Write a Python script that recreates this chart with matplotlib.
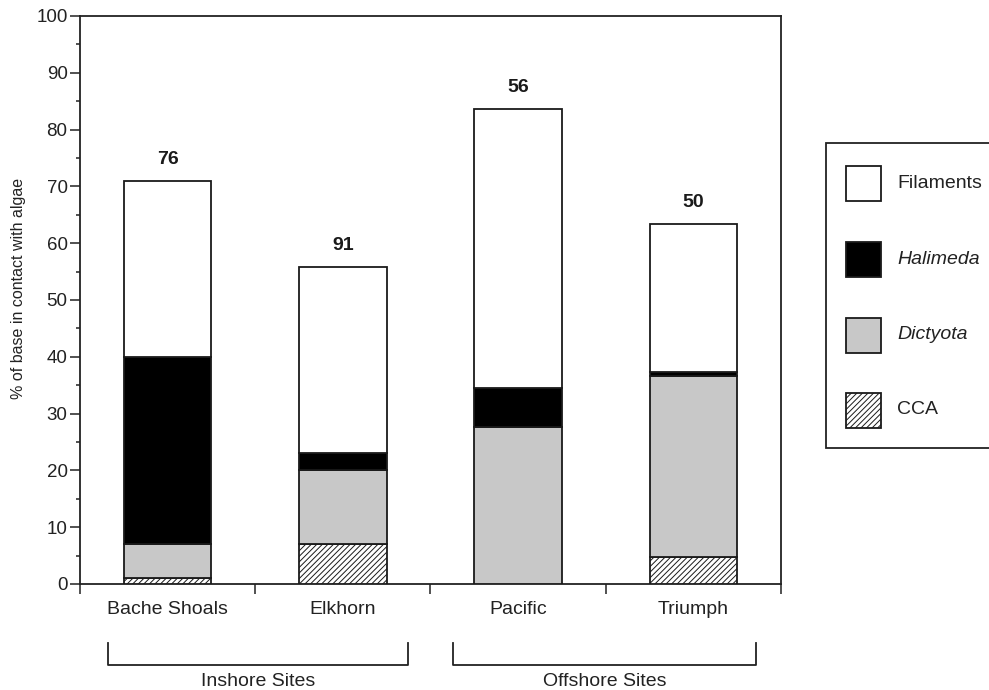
import matplotlib
matplotlib.use("Agg")
import matplotlib.pyplot as plt
from matplotlib.patches import Rectangle
from matplotlib.lines import Line2D
from matplotlib.transforms import blended_transform_factory
import numpy as np

plt.rcParams['font.family'] = ['Liberation Sans', 'DejaVu Sans']
plt.rcParams['hatch.linewidth'] = 0.7

# Site categories and stacked cover (% of base in contact with algae)
sites = ["Bache Shoals", "Elkhorn", "Pacific", "Triumph"]
cca = [1.0, 7.0, 0.0, 4.8]
dictyota = [6.0, 13.0, 27.6, 31.8]
halimeda = [33.0, 3.0, 6.9, 0.7]
filaments = [31.0, 32.8, 49.1, 26.0]
n_colonies = [76, 91, 56, 50]

groups = ["Inshore Sites", "Offshore Sites"]
group_spans = [(-0.34, 1.37), (1.63, 3.36)]

series_names = ["Filaments", "Halimeda", "Dictyota", "CCA"]
series_styles = {
    "CCA": dict(facecolor="white", hatch="//////"),
    "Dictyota": dict(facecolor="#c8c8c8", hatch=None),
    "Halimeda": dict(facecolor="black", hatch=None),
    "Filaments": dict(facecolor="white", hatch=None),
}
series_italic = {"Filaments": False, "Halimeda": True, "Dictyota": True, "CCA": False}

W, H = 989, 690
fig = plt.figure(figsize=(W / 100, H / 100), dpi=100)
ax = fig.add_axes([80 / W, 1 - 584 / H, 701 / W, 568 / H])

x = np.arange(len(sites))
bar_w = 0.5
edge_kw = dict(edgecolor="#1a1a1a", linewidth=1.3)

bottom = np.zeros(len(sites))
for name, vals in [("CCA", cca), ("Dictyota", dictyota),
                   ("Halimeda", halimeda), ("Filaments", filaments)]:
    st = series_styles[name]
    ax.bar(x, vals, bar_w, bottom=bottom, facecolor=st["facecolor"],
           hatch=st["hatch"], **edge_kw, zorder=3)
    bottom = bottom + np.array(vals)

totals = bottom
for xi, tot, n in zip(x, totals, n_colonies):
    ax.annotate(str(n), (xi, tot), xytext=(0, 15.5), textcoords="offset points",
                ha="center", va="center", fontsize=14, fontweight="bold",
                color="#1a1a1a")

ax.set_xlim(-0.5, 3.5)
ax.set_ylim(0, 100)
ax.set_yticks(np.arange(0, 101, 10))
ax.set_yticks(np.arange(5, 100, 10), minor=True)
ax.set_xticks(x, sites)
ax.set_xticks(np.arange(-0.5, 3.6, 1.0), minor=True)

ax.tick_params(axis="y", which="major", length=7, width=1.1, pad=2,
               labelsize=13.5, colors="#222222")
ax.tick_params(axis="y", which="minor", length=3, width=1.1, color="#222222")
ax.tick_params(axis="x", which="major", length=0, pad=12, labelsize=14,
               colors="#222222")
ax.tick_params(axis="x", which="minor", length=7, width=1.1, color="#222222")

for sp in ax.spines.values():
    sp.set_linewidth(1.3)
    sp.set_color("#222222")

ax.set_ylabel("% of base in contact with algae", fontsize=11.5, color="#222222")
ax.yaxis.set_label_coords(-0.077, 0.52)

# Group brackets below the site labels
trans = blended_transform_factory(ax.transData, fig.transFigure)
y_top = 1 - 643 / H
y_bot = 1 - 665 / H
y_txt = 1 - 681 / H
for label, (x0, x1) in zip(groups, group_spans):
    fig.add_artist(Line2D([x0, x0, x1, x1], [y_top, y_bot, y_bot, y_top],
                          transform=trans, color="#222222", linewidth=1.3))
    fig.text((x0 + x1) / 2, y_txt, label, transform=trans, ha="center",
             va="center", fontsize=14, color="#222222")

# Legend panel
def fx(px):
    return px / W


def fy(py):
    return 1 - py / H


fig.add_artist(Rectangle((fx(826), fy(448)), fx(1010) - fx(826), fy(143) - fy(448),
                         transform=fig.transFigure, facecolor="white",
                         edgecolor="#222222", linewidth=1.3))
row_y = [183, 259, 335, 410]
sz = 35
for name, cy in zip(series_names, row_y):
    st = series_styles[name]
    fig.add_artist(Rectangle((fx(846), fy(cy + sz / 2)), sz / W, sz / H,
                             transform=fig.transFigure, facecolor=st["facecolor"],
                             hatch=st["hatch"], **edge_kw))
    fig.text(fx(897), fy(cy), name, ha="left", va="center", fontsize=14,
             style="italic" if series_italic[name] else "normal", color="#222222")

fig.savefig("out.png", dpi=100)
